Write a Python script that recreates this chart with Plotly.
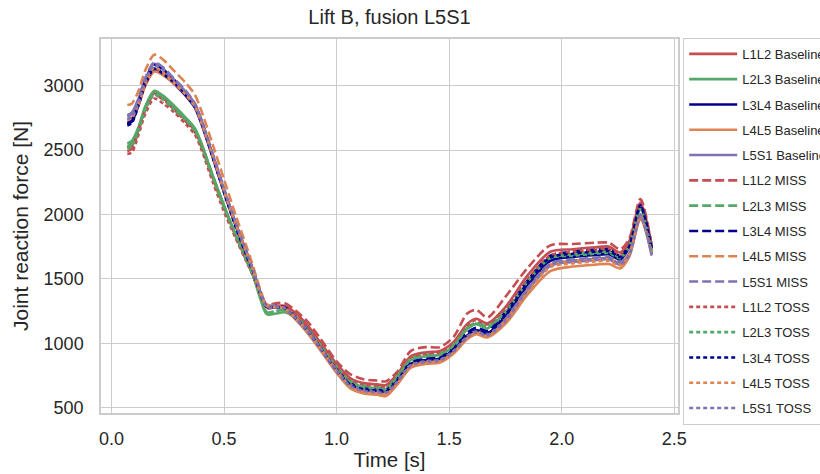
import plotly.graph_objects as go

time_s = [0.07,0.09,0.12,0.15,0.19,0.23,0.28,0.33,0.37,0.40,
          0.45,0.50,0.55,0.60,0.63,0.66,
          0.69,0.73,0.77,0.82,0.87,0.93,1.00,
          1.06,1.12,1.18,1.22,1.27,
          1.33,1.40,1.46,1.52,1.58,1.62,1.67,
          1.75,1.85,1.95,2.05,2.15,2.21,2.26,
          2.30,2.35,2.40]

L1L2_baseline = [2520,2540,2660,2820,2940,2900,2820,2730,2650,2530,
                 2290,2060,1840,1640,1520,1380,
                 1280,1290,1290,1230,1140,1000,840,
                 730,690,680,675,760,
                 900,930,940,1010,1150,1190,1155,
                 1280,1530,1710,1730,1745,1750,1705,
                 1790,2090,1760]
L2L3_baseline = [2550,2570,2680,2840,2960,2920,2840,2750,2670,2550,
                 2300,2070,1850,1650,1520,1350,
                 1225,1230,1240,1190,1110,980,810,
                 700,660,650,645,740,
                 870,900,910,980,1110,1150,1115,
                 1240,1470,1660,1690,1705,1710,1670,
                 1750,2050,1730]
L3L4_baseline = [2700,2720,2850,3010,3130,3090,3010,2920,2830,2700,
                 2440,2170,1920,1690,1550,1390,
                 1280,1280,1270,1190,1100,960,790,
                 680,640,630,625,710,
                 840,870,880,950,1060,1100,1075,
                 1210,1450,1640,1670,1685,1690,1650,
                 1750,2050,1740]
L4L5_baseline = [2740,2750,2850,3000,3110,3080,3010,2930,2840,2710,
                 2450,2180,1930,1700,1560,1390,
                 1290,1280,1260,1180,1080,940,770,
                 650,610,600,590,680,
                 810,840,850,920,1030,1070,1045,
                 1150,1380,1560,1595,1610,1615,1580,
                 1670,1960,1700]
L5S1_baseline = [2770,2790,2900,3050,3170,3130,3040,2950,2860,2730,
                 2460,2190,1940,1700,1560,1400,
                 1290,1280,1270,1190,1090,950,780,
                 670,630,620,615,700,
                 825,855,865,935,1045,1085,1060,
                 1170,1410,1600,1630,1645,1650,1610,
                 1680,1970,1680]

L1L2_miss = [2490,2510,2650,2810,2930,2890,2810,2720,2640,2520,
             2280,2050,1840,1650,1540,1400,
             1300,1310,1310,1250,1170,1030,860,
             760,720,710,705,780,
             940,970,970,1050,1230,1260,1200,
             1360,1587,1760,1770,1780,1780,1730,
             1810,2120,1760]
L2L3_miss = [2530,2550,2670,2830,2950,2910,2830,2740,2660,2540,
             2300,2060,1850,1650,1520,1370,
             1240,1250,1260,1210,1120,980,820,
             710,670,660,655,750,
             880,910,920,990,1120,1160,1135,
             1250,1490,1670,1690,1705,1710,1670,
             1760,2050,1730]
L3L4_miss = [2710,2730,2870,3040,3160,3120,3040,2940,2850,2720,
             2450,2180,1930,1700,1560,1400,
             1290,1290,1280,1200,1110,970,800,
             690,650,640,635,720,
             850,880,890,960,1080,1120,1095,
             1240,1490,1680,1710,1725,1730,1680,
             1760,2060,1740]
L4L5_miss = [2850,2860,2960,3120,3240,3200,3110,3020,2930,2800,
             2540,2270,2000,1750,1590,1420,
             1300,1290,1270,1190,1100,960,790,
             670,630,620,615,700,
             830,860,870,940,1050,1090,1065,
             1180,1420,1610,1640,1655,1660,1620,
             1700,1990,1710]
L5S1_miss = [2760,2780,2900,3060,3180,3140,3050,2960,2860,2730,
             2470,2200,1940,1710,1560,1400,
             1290,1290,1270,1190,1100,960,790,
             680,640,630,625,710,
             830,860,870,940,1050,1090,1065,
             1190,1430,1620,1650,1665,1670,1630,
             1700,2000,1700]

L1L2_toss = [2470,2480,2620,2780,2900,2860,2790,2700,2620,2500,
             2250,2020,1820,1630,1520,1380,
             1270,1280,1280,1220,1130,990,830,
             720,680,670,665,750,
             890,920,930,1000,1140,1180,1145,
             1270,1500,1680,1710,1725,1730,1690,
             1780,2090,1760]
L2L3_toss = [2510,2530,2650,2810,2930,2890,2810,2730,2650,2530,
             2280,2050,1840,1640,1520,1370,
             1240,1250,1260,1200,1110,980,810,
             700,660,650,645,740,
             870,900,910,980,1110,1150,1125,
             1240,1480,1660,1680,1695,1700,1660,
             1750,2040,1720]
L3L4_toss = [2690,2710,2850,3010,3130,3090,3020,2930,2840,2710,
             2440,2170,1910,1680,1550,1390,
             1280,1280,1270,1190,1100,960,790,
             680,640,630,625,710,
             840,870,880,950,1060,1100,1075,
             1220,1470,1665,1695,1710,1715,1670,
             1750,2070,1730]
L4L5_toss = [2730,2750,2860,3020,3140,3100,3020,2930,2840,2710,
             2450,2180,1930,1700,1560,1390,
             1290,1280,1270,1190,1090,950,780,
             660,620,610,605,690,
             820,850,860,930,1040,1080,1055,
             1170,1400,1590,1620,1635,1640,1605,
             1690,1980,1700]
L5S1_toss = [2740,2760,2880,3040,3160,3120,3040,2950,2850,2720,
             2460,2190,1940,1700,1560,1400,
             1280,1280,1270,1190,1100,960,790,
             670,630,620,615,700,
             830,860,870,940,1050,1090,1065,
             1180,1420,1610,1640,1655,1660,1620,
             1690,1990,1690]

levels = ["L1L2", "L2L3", "L3L4", "L4L5", "L5S1"]
level_colors = {"L1L2": "#c44e52", "L2L3": "#55a868", "L3L4": "#00008b",
                "L4L5": "#dd8452", "L5S1": "#8172b3"}
conditions = ["Baseline", "MISS", "TOSS"]
cond_dash = {"Baseline": "solid", "MISS": "9px,4px", "TOSS": "4px,3px"}
series = {
    ("L1L2", "Baseline"): L1L2_baseline, ("L2L3", "Baseline"): L2L3_baseline,
    ("L3L4", "Baseline"): L3L4_baseline, ("L4L5", "Baseline"): L4L5_baseline,
    ("L5S1", "Baseline"): L5S1_baseline,
    ("L1L2", "MISS"): L1L2_miss, ("L2L3", "MISS"): L2L3_miss,
    ("L3L4", "MISS"): L3L4_miss, ("L4L5", "MISS"): L4L5_miss,
    ("L5S1", "MISS"): L5S1_miss,
    ("L1L2", "TOSS"): L1L2_toss, ("L2L3", "TOSS"): L2L3_toss,
    ("L3L4", "TOSS"): L3L4_toss, ("L4L5", "TOSS"): L4L5_toss,
    ("L5S1", "TOSS"): L5S1_toss,
}

FONT = "Liberation Sans, Arial, sans-serif"
TXT = "#262626"

fig = go.Figure()
for cond in conditions:
    for lev in levels:
        name = f"{lev} {cond}"
        fig.add_trace(go.Scatter(
            x=time_s, y=series[(lev, cond)], mode="lines", name=name,
            legendgroup=name,
            line=dict(color=level_colors[lev], width=2.6, dash=cond_dash[cond],
                      shape="spline", smoothing=0.8),
        ))

axis_common = dict(showgrid=True, gridcolor="#cccccc", gridwidth=1.2,
                   showline=True, mirror=True, linecolor="#cccccc", linewidth=1.5,
                   zeroline=False, ticks="outside", tickcolor="rgba(0,0,0,0)",
                   tickfont=dict(family=FONT, size=18, color=TXT))

fig.update_layout(
    width=820, height=474,
    margin=dict(l=101, r=142, t=39, b=61, autoexpand=False),
    paper_bgcolor="white", plot_bgcolor="white",
    title=dict(text="Lift B, fusion L5S1", x=(101 + 678) / 2 / 820, xanchor="center",
               y=0.964, yanchor="middle",
               font=dict(family=FONT, size=20, color=TXT)),
    xaxis=dict(range=[-0.047, 2.517], tickvals=[0, 0.5, 1.0, 1.5, 2.0, 2.5],
               ticktext=["0.0", "0.5", "1.0", "1.5", "2.0", "2.5"], ticklen=9,
               title=dict(text="Time [s]", standoff=4,
                          font=dict(family=FONT, size=20.5, color=TXT)),
               **axis_common),
    yaxis=dict(range=[458, 3362], tickvals=[500, 1000, 1500, 2000, 2500, 3000],
               ticklen=12,
               title=dict(text="Joint reaction force [N]", standoff=9,
                          font=dict(family=FONT, size=21, color=TXT)),
               **axis_common),
    legend=dict(x=1.009, y=1.003, xanchor="left", yanchor="top",
                bordercolor="#cccccc", borderwidth=1, bgcolor="white",
                font=dict(family=FONT, size=13, color=TXT),
                tracegroupgap=5.4, itemwidth=48),
    showlegend=True,
)
try:
    fig.update_layout(legend_maxheight=440)
except Exception:
    pass

fig.write_html("out.html")
